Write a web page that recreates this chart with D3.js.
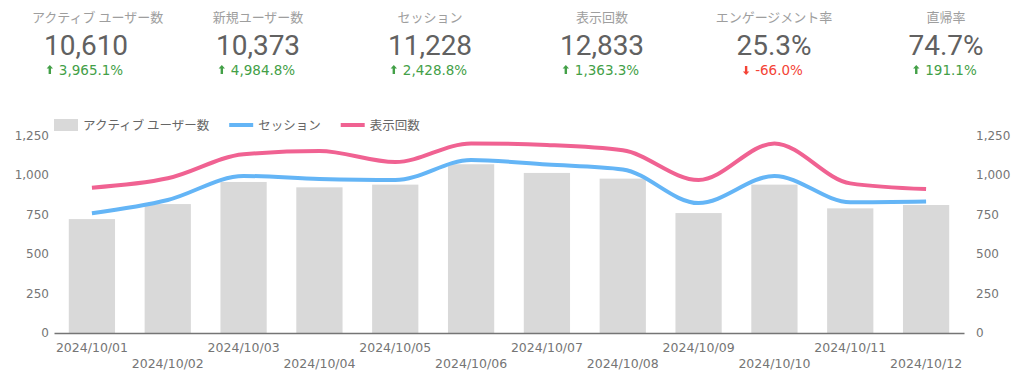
<!DOCTYPE html>
<html>
<head>
<meta charset="utf-8">
<script src="https://cdn.jsdelivr.net/npm/d3@7"></script>
<style>
  body { margin: 0; background: #fff; }
  svg { display: block; }
  .kpi-title { font-family: "Noto Sans CJK JP", sans-serif; font-size: 13px; fill: #9e9e9e; }
  .kpi-value { font-family: Roboto, sans-serif; font-size: 28px; fill: #616161; }
  .kpi-delta { font-family: "DejaVu Sans", Verdana, sans-serif; font-size: 13.5px; }
  .legend text { font-family: "Noto Sans CJK JP", sans-serif; font-size: 12.5px; fill: #666; }
  .axis text { font-family: "DejaVu Sans", Verdana, sans-serif; fill: #757575; }
</style>
</head>
<body>
<div id="chart"></div>
<script>
// scorecards
const kpiNames = ['アクティブ ユーザー数', '新規ユーザー数', 'セッション', '表示回数', 'エンゲージメント率', '直帰率'];
const kpiValues = ['10,610', '10,373', '11,228', '12,833', '25.3%', '74.7%'];
const kpiDeltas = [3965.1, 4984.8, 2428.8, 1363.3, -66.0, 191.1];

// daily series
const dates = ['2024/10/01', '2024/10/02', '2024/10/03', '2024/10/04', '2024/10/05', '2024/10/06',
               '2024/10/07', '2024/10/08', '2024/10/09', '2024/10/10', '2024/10/11', '2024/10/12'];
const activeUsers = [721, 816, 956, 922, 939, 1068, 1013, 977, 759, 939, 789, 810];
const sessions    = [758, 842, 994, 975, 968, 1095, 1066, 1035, 822, 994, 828, 833];
const pageViews   = [920, 979, 1131, 1152, 1082, 1200, 1190, 1156, 968, 1200, 947, 911];
const yTicks = [0, 250, 500, 750, 1000, 1250];

const width = 1024, height = 385;
const margin = {top: 135.5, right: 60, bottom: 52, left: 54};
const innerW = 964 - margin.left, innerH = 333 - margin.top;

const svg = d3.select('#chart').append('svg')
  .attr('width', width)
  .attr('height', height);

// --- scorecards
const kpiX = d3.scalePoint().domain(kpiNames).range([86, 946]);
const kpi = svg.append('g').selectAll('g')
  .data(kpiNames)
  .enter()
  .append('g')
  .attr('transform', d => `translate(${kpiX(d)},0)`);

kpi.append('text')
  .classed('kpi-title', true)
  .attr('y', 22)
  .attr('text-anchor', 'middle')
  .text(d => d)
  .each(function(d) {
    // keep long titles inside the page padding
    const w = this.getComputedTextLength();
    const shift = Math.max(0, 32 - (kpiX(d) - w / 2));
    d3.select(this).attr('x', shift);
  });

kpi.append('text')
  .classed('kpi-value', true)
  .attr('y', 55)
  .attr('text-anchor', 'middle')
  .text((d, i) => kpiValues[i]);

const fmtDelta = d3.formatLocale({decimal: '.', thousands: ',', grouping: [3], currency: ['', ''], minus: '-'}).format(',.1f');
const delta = kpi.append('g').attr('transform', 'translate(0,75)');
delta.append('text')
  .classed('kpi-delta', true)
  .attr('x', 5)
  .attr('text-anchor', 'middle')
  .style('fill', (d, i) => kpiDeltas[i] >= 0 ? '#43a047' : '#f44336')
  .text((d, i) => fmtDelta(kpiDeltas[i]) + '%')
  .each(function(d, i) {
    const w = this.getComputedTextLength();
    const up = kpiDeltas[i] >= 0;
    const ax = 5 - w / 2 - 9;
    const arrow = up
      ? `M${ax},-10 l3.2,3.6 h-2 v5.4 h-2.4 v-5.4 h-2 z`
      : `M${ax},0 l3.2,-3.6 h-2 v-5.4 h-2.4 v5.4 h-2 z`;
    d3.select(this.parentNode).append('path')
      .attr('d', arrow)
      .attr('fill', up ? '#43a047' : '#f44336');
  });

// --- chart
const x = d3.scaleBand().domain(dates).range([0, innerW]).paddingInner(0.39).paddingOuter(0.195);
const y = d3.scaleLinear().domain([0, 1250]).range([innerH, 0]);

const g = svg.append('g').attr('transform', `translate(${margin.left},${margin.top})`);

g.selectAll('.bar')
  .data(activeUsers)
  .enter()
  .append('rect')
  .attr('class', 'bar')
  .attr('x', (d, i) => x(dates[i]))
  .attr('y', d => y(d))
  .attr('width', x.bandwidth())
  .attr('height', d => innerH - y(d))
  .attr('fill', '#d9d9d9');

const line = d3.line()
  .x((d, i) => x(dates[i]) + x.bandwidth() / 2)
  .y(d => y(d))
  .curve(d3.curveMonotoneX);

g.append('path').datum(sessions)
  .attr('d', line).attr('fill', 'none')
  .attr('stroke', '#64b5f6').attr('stroke-width', 4);
g.append('path').datum(pageViews)
  .attr('d', line).attr('fill', 'none')
  .attr('stroke', '#f06292').attr('stroke-width', 4);

// axes
const xAxis = g.append('g').attr('class', 'axis')
  .attr('transform', `translate(0,${innerH})`)
  .call(d3.axisBottom(x).tickSize(0).tickPadding(0));
xAxis.select('.domain').attr('stroke', '#757575').attr('stroke-width', 1.5);
xAxis.selectAll('text')
  .style('font-size', '12.5px')
  .attr('dy', 0)
  .attr('y', (d, i) => i % 2 === 0 ? 19 : 35);

const fmtTick = d3.format(',');
const yLeft = g.append('g').attr('class', 'axis')
  .call(d3.axisLeft(y).tickValues(yTicks).tickFormat(fmtTick).tickSize(0).tickPadding(5));
const yRight = g.append('g').attr('class', 'axis')
  .attr('transform', `translate(${innerW},0)`)
  .call(d3.axisRight(y).tickValues(yTicks).tickFormat(fmtTick).tickSize(0).tickPadding(12));
[yLeft, yRight].forEach(a => {
  a.select('.domain').remove();
  a.selectAll('text').style('font-size', '12px');
});

// legend
const legend = svg.append('g').attr('class', 'legend');
const legendItems = [
  {name: 'アクティブ ユーザー数', color: '#d9d9d9', type: 'box'},
  {name: 'セッション', color: '#64b5f6', type: 'line'},
  {name: '表示回数', color: '#f06292', type: 'line'}
];
let lx = 54;
legendItems.forEach(item => {
  const it = legend.append('g').attr('transform', `translate(${lx},125)`);
  if (item.type === 'box') {
    it.append('rect').attr('x', 0).attr('y', -6).attr('width', 24).attr('height', 12).attr('fill', item.color);
  } else {
    it.append('line').attr('x1', 0).attr('x2', 24).attr('stroke', item.color).attr('stroke-width', 4);
  }
  const t = it.append('text').attr('x', 29).attr('dy', '0.36em').text(item.name);
  lx += 29 + t.node().getComputedTextLength() + 20;
});
</script>
</body>
</html>
